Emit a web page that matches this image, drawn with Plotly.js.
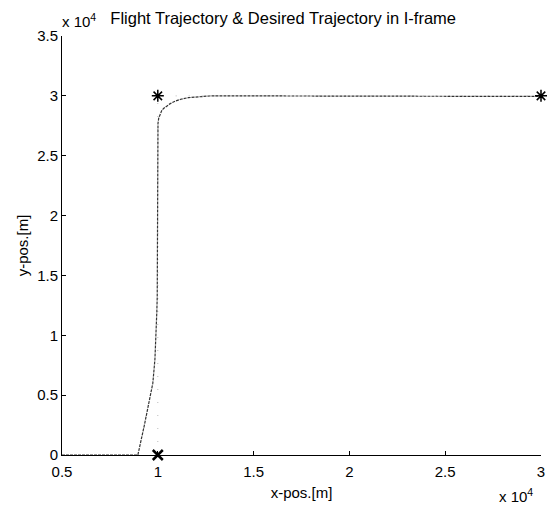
<!DOCTYPE html>
<html><head><meta charset="utf-8">
<script src="https://cdn.plot.ly/plotly-3.0.1.min.js"></script>
<style>body{margin:0;background:#fff}#c{width:552px;height:506px}</style>
</head><body><div id="c"></div>
<script>
// Flight trajectory (meters)
const flightX = [5000, 8960, 9300, 9550, 9740, 9850, 9900, 9950, 9970, 9980, 9985, 9990, 10010, 10050, 10120, 10200, 10300, 10450, 10650, 10900, 11200, 11600, 12100, 12700, 13500, 15000, 20000, 25000, 30000];
const flightY = [0, 0, 2500, 4500, 6000, 8000, 9600, 12000, 13200, 20000, 26000, 27000, 27700, 28150, 28500, 28750, 28950, 29150, 29350, 29550, 29720, 29850, 29940, 29990, 30000, 30000, 30000, 29980, 29950];
// Desired trajectory
const desiredX = [10000, 10000, 30000];
const desiredY = [0, 30000, 30000];
// Waypoints
const startX = [10000], startY = [0];
const wpX = [10000, 30000], wpY = [30000, 30000];
const xTicks = [5000, 10000, 15000, 20000, 25000, 30000];
const xTickText = ["0.5", "1", "1.5", "2", "2.5", "3"];
const yTicks = [0, 5000, 10000, 15000, 20000, 25000, 30000, 35000];
const yTickText = ["0", "0.5", "1", "1.5", "2", "2.5", "3", "3.5"];

const fam = "Liberation Sans, Arial, sans-serif";
const font = {family: fam, size: 15, color: "#000"};
const traces = [
  {x: desiredX, y: desiredY, mode: "lines", line: {color: "#bbb", width: 1, dash: "1px,12px"}, hoverinfo: "skip", cliponaxis: false},
  {x: flightX, y: flightY, mode: "lines", line: {color: "#333", width: 1.2, dash: "3px,1px"}, cliponaxis: false},
  {x: startX, y: startY, mode: "markers", cliponaxis: false, marker: {symbol: "x-thin-open", size: 10, color: "#000", line: {width: 2.5, color: "#000"}}},
  {x: wpX, y: wpY, mode: "markers", cliponaxis: false, marker: {symbol: "asterisk-open", size: 10, color: "#000", line: {width: 1.5, color: "#000"}}}
];
const layout = {
  width: 552, height: 506, showlegend: false,
  paper_bgcolor: "#fff", plot_bgcolor: "#fff",
  margin: {l: 62, r: 11, t: 36, b: 51},
  font: font,
  title: {text: "Flight Trajectory & Desired Trajectory in I-frame", font: {family: fam, size: 16.5, color: "#000"}, x: 0.513, xanchor: "center", y: 0.964, yanchor: "middle"},
  xaxis: {range: [5000, 30000], tickvals: xTicks, ticktext: xTickText, ticks: "inside", ticklen: 4, tickcolor: "#000",
    showline: true, linecolor: "#000", linewidth: 1, showgrid: false, zeroline: false, mirror: false, ticklabelstandoff: 3,
    tickfont: font, title: {text: "x-pos.[m]", font: font, standoff: 8}},
  yaxis: {range: [0, 35000], tickvals: yTicks, ticktext: yTickText, ticks: "inside", ticklen: 4, tickcolor: "#000",
    showline: true, linecolor: "#000", linewidth: 1, showgrid: false, zeroline: false, mirror: false,
    tickfont: font, title: {text: "y-pos.[m]", font: font, standoff: 4}},
  annotations: [
    {xref: "paper", yref: "paper", x: -0.004, y: 1.0, xanchor: "left", yanchor: "middle", yshift: 16, showarrow: false,
     text: "x 10<sup>4</sup>", font: {family: fam, size: 15, color: "#000"}},
    {xref: "paper", yref: "paper", x: 0.987, y: 0, xanchor: "right", yanchor: "middle", yshift: -40, showarrow: false,
     text: "x 10<sup>4</sup>", font: {family: fam, size: 15, color: "#000"}}
  ]
};
Plotly.newPlot("c", traces, layout, {staticPlot: true});
</script></body></html>
